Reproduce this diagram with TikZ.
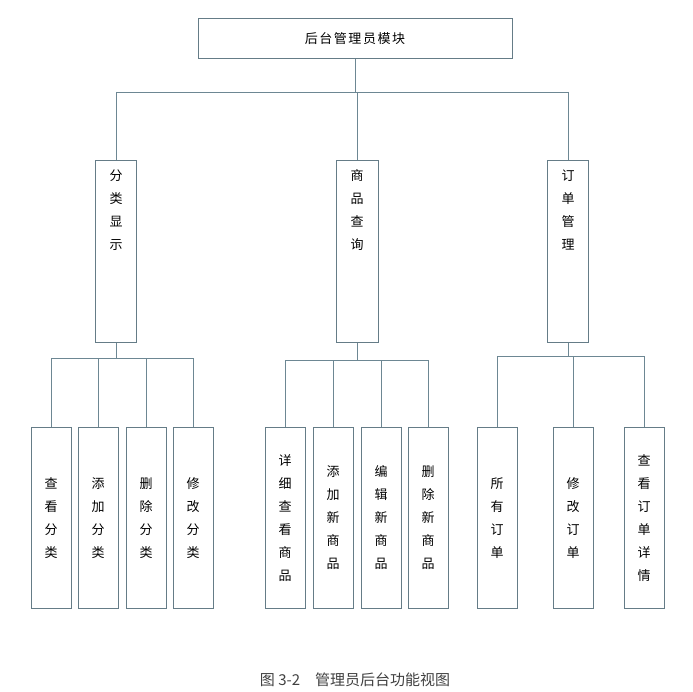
\documentclass[tikz,border=0pt]{standalone}
\usepackage{fontspec}
\newfontfamily\cjk{Noto Sans CJK SC}[LetterSpace=12]
\newfontfamily\cjkcap{Noto Sans CJK SC}
\begin{document}
\begin{tikzpicture}[x=1pt,y=-1pt,
    box/.style={draw=black!55!cyan!60!gray, line width=0.9pt, fill=white, anchor=north},
    link/.style={draw=black!45!cyan!50!gray, line width=0.9pt},
    vtext/.style={align=center, font=\cjkcap\fontsize{13}{23}\selectfont}]
  \useasboundingbox (0,0) rectangle (693,692);

  % top
  \node[box, minimum width=314pt, minimum height=40pt, font=\cjk\fontsize{13}{15}\selectfont] (top) at (355,18) {后台管理员模块};

  % second level
  \node[box, minimum width=41pt, minimum height=182pt] (fl) at (116,160) {};
  \node[vtext, anchor=north] at (fl.north) [yshift=-6pt] {分\\类\\显\\示};
  \node[box, minimum width=42pt, minimum height=182pt] (sp) at (357,160) {};
  \node[vtext, anchor=north] at (sp.north) [yshift=-6pt] {商\\品\\查\\询};
  \node[box, minimum width=41pt, minimum height=182pt] (dd) at (568,160) {};
  \node[vtext, anchor=north] at (dd.north) [yshift=-6pt] {订\\单\\管\\理};

  \coordinate (busA) at (355,92);
  \draw[link] (top.south) -- (busA);
  \draw[link] (116,92) -- (568,92);
  \draw[link] (116,92) -- (fl.north);
  \draw[link] (357,92) -- (sp.north);
  \draw[link] (568,92) -- (dd.north);

  % third level
  \foreach \x/\n/\t/\p in {51/a1/查\\看\\分\\类/fl, 98/a2/添\\加\\分\\类/fl, 146/a3/删\\除\\分\\类/fl, 193/a4/修\\改\\分\\类/fl,
      285/b1/详\\细\\查\\看\\商\\品/sp, 333/b2/添\\加\\新\\商\\品/sp, 381/b3/编\\辑\\新\\商\\品/sp, 428/b4/删\\除\\新\\商\\品/sp,
      497/c1/所\\有\\订\\单/dd, 573/c2/修\\改\\订\\单/dd, 644/c3/查\\看\\订\\单\\详\\情/dd} {
    \node[box, minimum width=40pt, minimum height=181pt] (\n) at (\x,427) {};
    \node[vtext, anchor=center] at (\n.center) {\t};
  }

  \draw[link] (fl.south) -- ++(0,16) coordinate (fb);
  \draw[link] (a1.north) |- (a4.north |- fb) -- (a4.north);
  \foreach \n in {a2,a3} \draw[link] (\n.north) -- (\n.north |- fb);

  \draw[link] (sp.south) -- ++(0,18) coordinate (sb);
  \draw[link] (b1.north) |- (b4.north |- sb) -- (b4.north);
  \foreach \n in {b2,b3} \draw[link] (\n.north) -- (\n.north |- sb);

  \draw[link] (dd.south) -- ++(0,14) coordinate (db);
  \draw[link] (c1.north) |- (c3.north |- db) -- (c3.north);
  \draw[link] (c2.north) -- (c2.north |- db);

  % caption
  \node[font=\cjkcap\fontsize{15}{17}\selectfont, text=black!75] (cap) at (355,680) {图 3-2\quad 管理员后台功能视图};
\end{tikzpicture}
\end{document}
